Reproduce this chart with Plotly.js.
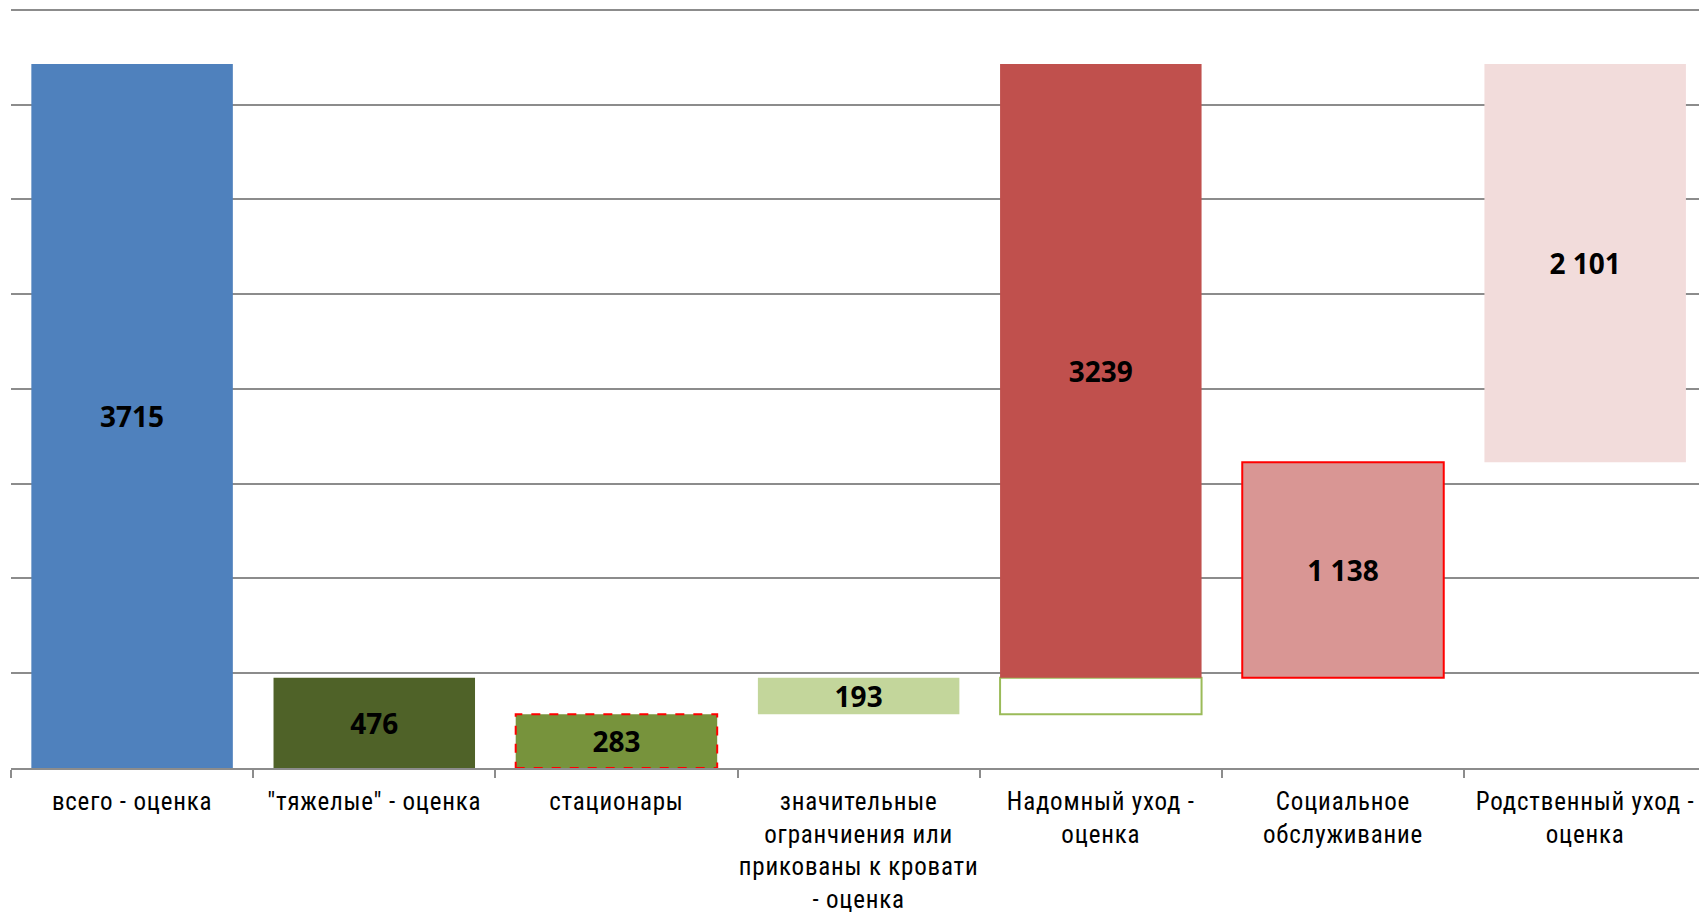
<!DOCTYPE html>
<html>
<head>
<meta charset="utf-8">
<script src="https://cdn.plot.ly/plotly-3.0.1.min.js"></script>
<style>
html,body{margin:0;padding:0;background:#fff;overflow:hidden;}
#chart{width:1699px;height:913px;}
#chart .xtick text{letter-spacing:0.8px;}
</style>
</head>
<body>
<div id="chart"></div>
<script>
// ---- data ----
const categories = [
  'всего - оценка',
  '"тяжелые" - оценка',
  'стационары',
  'значительные<br>огранчиения или<br>прикованы к кровати<br>- оценка',
  'Надомный уход -<br>оценка',
  'Социальное<br>обслуживание',
  'Родственный уход -<br>оценка'
];
const values = [3715, 476, 283, 193, 3239, 1138, 2101];
const bases  = [0, 0, 0, 283, 476, 476, 1614];
const valueLabels = ['3715', '476', '283', '193', '3239', '1 138', '2 101'];
// hollow placeholder under "Надомный уход" (the 193 step)
const hollowValues = [null, null, null, null, 193, null, null];
const hollowBases  = [null, null, null, null, 283, null, null];

// ---- styles ----
const barColors = ['#4F81BD', '#4F6228', '#77933C', '#C3D69B', '#C0504D', '#D99694', '#F2DCDB'];
const lineWidths = [0, 0, 0, 0, 0, 2, 0];
const lineColors = ['#FF0000', '#FF0000', '#FF0000', '#FF0000', '#FF0000', '#FF0000', '#FF0000'];
const dashedIndex = 2; // "стационары" has a dashed red outline
const barWidth = 0.832;

const labelFont = 'Liberation Sans Narrow, Arial Narrow, Roboto Condensed, Roboto, sans-serif';
const valueFont = 'Noto Sans, Open Sans, sans-serif';

const mainTrace = {
  type: 'bar',
  x: categories,
  y: values,
  base: bases,
  width: barWidth,
  marker: {color: barColors, line: {width: lineWidths, color: lineColors}},
  text: valueLabels,
  texttemplate: '<b>%{text}</b>',
  textposition: 'inside',
  insidetextanchor: 'middle',
  constraintext: 'none',
  textangle: 0,
  textfont: {family: valueFont, size: 28, color: '#000000'},
  hoverinfo: 'skip',
  cliponaxis: false
};

const hollowTrace = {
  type: 'bar',
  x: categories,
  y: hollowValues,
  base: hollowBases,
  width: barWidth,
  marker: {color: '#FFFFFF', line: {width: 2, color: '#9BBB59'}},
  hoverinfo: 'skip'
};

const shapes = [{
  type: 'rect', xref: 'x', yref: 'y', layer: 'above',
  x0: dashedIndex - barWidth / 2, x1: dashedIndex + barWidth / 2,
  y0: bases[dashedIndex], y1: bases[dashedIndex] + values[dashedIndex],
  line: {color: '#FF0000', width: 2, dash: 'dash'},
  fillcolor: 'rgba(0,0,0,0)'
}];

const layout = {
  width: 1699, height: 913,
  margin: {l: 11, r: 0, t: 6, b: 145, pad: 0},
  paper_bgcolor: '#FFFFFF', plot_bgcolor: '#FFFFFF',
  barmode: 'overlay',
  showlegend: false,
  hovermode: false,
  shapes: shapes,
  xaxis: {
    type: 'category',
    range: [-0.5, 6.47],
    showline: true, linecolor: '#8C8C8C', linewidth: 2,
    ticks: 'outside', tickson: 'boundaries', ticklen: 8, tickwidth: 2, tickcolor: '#8C8C8C',
    showgrid: false, zeroline: false,
    tickfont: {family: labelFont, size: 25, color: '#000000'},
    ticklabelstandoff: 10,
    tickangle: 0,
    automargin: false
  },
  yaxis: {
    range: [0, 4021], dtick: 500, tick0: 0,
    showticklabels: false, ticks: '',
    showgrid: true, gridcolor: '#8C8C8C', gridwidth: 2,
    zeroline: false, showline: false,
    automargin: false
  },
  font: {family: labelFont, color: '#000000'}
};

Plotly.newPlot('chart', [hollowTrace, mainTrace], layout, {displayModeBar: false, staticPlot: true});
</script>
</body>
</html>
